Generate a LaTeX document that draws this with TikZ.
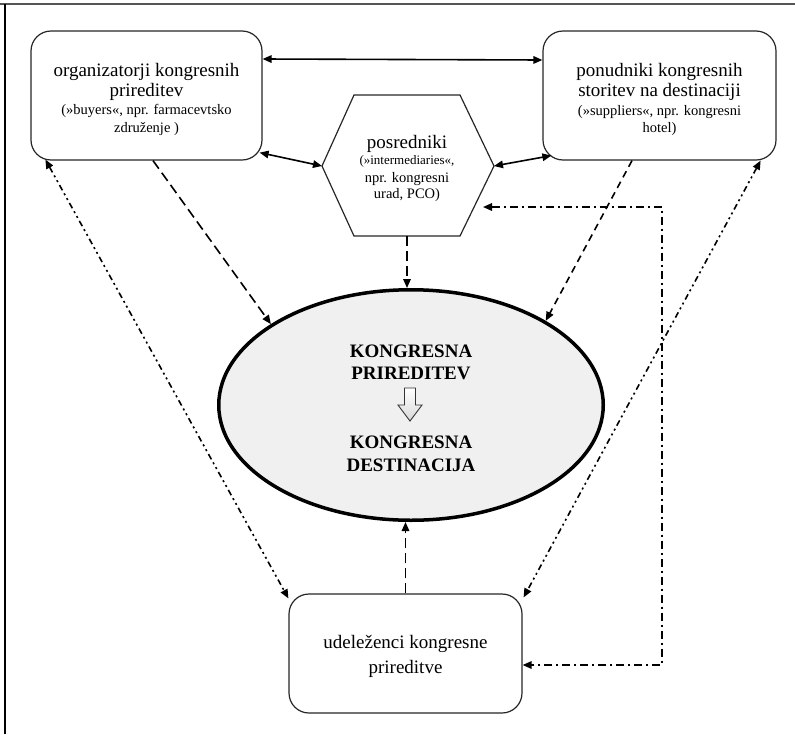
\documentclass[tikz,border=0pt]{standalone}
\usepackage{fontspec}
\setmainfont{Liberation Serif}
\usetikzlibrary{arrows.meta,shapes.geometric,calc}
\definecolor{ellfill}{RGB}{240,240,240}
\definecolor{framegray}{RGB}{85,85,85}
\tikzset{
  boxshape/.style={draw=black!85, line width=1.2pt, rounded corners=20pt, inner sep=0pt, fill=white},
  conn/.style={line width=1.6pt, >={Triangle[length=9pt,width=7.5pt]}},
  longdash/.style={dash pattern=on 10pt off 5pt},
  shortdash/.style={dash pattern=on 7pt off 5pt},
  dashdotline/.style={dash pattern=on 8pt off 4pt on 2pt off 4pt},
  dashdotdotline/.style={dash pattern=on 6pt off 3.5pt on 2pt off 3.5pt on 2pt off 3.5pt},
  txt/.style={anchor=base, inner sep=0pt},
  bigtxt/.style={txt, font=\fontsize{19}{20}\selectfont},
  smalltxt/.style={txt, font=\fontsize{14.5}{17}\selectfont},
  tinytxt/.style={txt, font=\fontsize{13}{15}\selectfont},
  boldtxt/.style={txt, font=\fontsize{19}{20}\selectfont\bfseries},
}
\begin{document}
\begin{tikzpicture}[x=1pt,y=-1pt]
\useasboundingbox (0,0) rectangle (795,734);
% frame
\draw[framegray, line width=2pt] (0,4) -- (795,4);
\draw[black, line width=1.4pt] (5,4) -- (5,734);

% boxes
\node[boxshape, minimum width=231pt, minimum height=129pt] (b1) at (146.5,95.5) {};
\node[boxshape, minimum width=233pt, minimum height=129pt] (b2) at (659.5,95.5) {};
\node[boxshape, minimum width=233pt, minimum height=119pt] (b3) at (405.5,653.5) {};

% hexagon
\draw[black!85, line width=1.2pt] (322,166) coordinate (hxL) -- (354,95) -- (460,95)
  -- (494,166) coordinate (hxR) -- (460,236) -- (354,236) -- cycle;
\coordinate (hxB) at (407,236);
\coordinate (hxA) at (483,207);
\coordinate (elb) at (662,207);

% ellipse
\node[ellipse, draw=black, line width=3.5pt, fill=ellfill, inner sep=0pt,
      minimum width=384.5pt, minimum height=230.5pt] (el) at (411,405) {};

% texts box 1
\node[bigtxt] (t1a) at (146.5,76) {organizatorji kongresnih};
\node[bigtxt] (t1b) at (146.5,96) {prireditev};
\node[smalltxt] (t1c) at (146.5,114) {(»buyers«, npr. farmacevtsko};
\node[smalltxt] (t1d) at (146.5,132) {združenje )};
% texts box 2
\node[bigtxt] (t2a) at (659.5,76) {ponudniki kongresnih};
\node[bigtxt] (t2b) at (659.5,96) {storitev na destinaciji};
\node[smalltxt] (t2c) at (659.5,115) {(»suppliers«, npr. kongresni};
\node[smalltxt] (t2d) at (659.5,132) {hotel)};
% texts hexagon
\node[bigtxt] (thA) at (407,148) {posredniki};
\node[tinytxt] (thB) at (407,164) {(»intermediaries«,};
\node[smalltxt] (thC) at (407,182) {npr. kongresni};
\node[smalltxt] (thD) at (407,198) {urad, PCO)};
% texts box 3
\node[bigtxt] (t3a) at (405.5,648) {udeleženci kongresne};
\node[bigtxt] (t3b) at (405.5,673) {prireditve};
% texts ellipse
\node[boldtxt] (teA) at (411,357) {KONGRESNA};
\node[boldtxt] (teB) at (411,379) {PRIREDITEV};
\node[boldtxt] (teC) at (411,448) {KONGRESNA};
\node[boldtxt] (teD) at (411,471) {DESTINACIJA};
% hollow block arrow
\shade[top color=white, bottom color=black!15, draw=black!80, line width=0.9pt]
  (404.5,388) -- (415.5,388) -- (415.5,405) -- (422,405) -- (410,421) -- (398,405) -- (404.5,405) -- cycle;

% connectors
\draw[conn, <->] ([yshift=36.5pt]b1.east) -- ([yshift=35.5pt]b2.west);
\draw[conn, <->] ($(b1.south east)+(-3,-8)$) -- (hxL);
\draw[conn, <->] ($(b2.south west)+(9,-5)$) -- (hxR);
\draw[conn, ->, longdash] ([xshift=6.5pt]b1.south) -- (el.150);
\draw[conn, ->, longdash] (hxB) -- (hxB |- el.north);
\draw[conn, ->, shortdash] ([xshift=-27.5pt]b2.south) -- (el.32);
\draw[conn, <->, dashdotdotline] ($(b1.south west)+(15,-1)$) -- ($(b3.north west)+(0,5)$);
\draw[conn, <->, dashdotdotline] ($(b2.south east)+(-16,0)$) -- ($(b3.north east)+(1,4)$);
\draw[conn, ->, longdash] (b3.north) -- (b3.north |- el.south);
\draw[conn, <->, dashdotline] (hxA) -- (elb) |- ([yshift=-11.5pt]b3.east);
\end{tikzpicture}
\end{document}
